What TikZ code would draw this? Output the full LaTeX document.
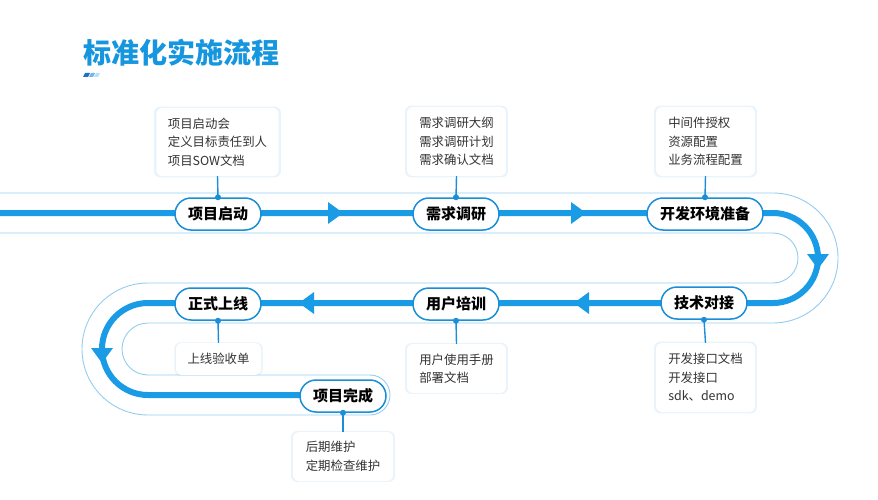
\documentclass[tikz,border=0pt]{standalone}
\usepackage{fontspec}
\setmainfont{Noto Sans CJK SC}
\usetikzlibrary{shadows}
\definecolor{mainblue}{HTML}{1A9BE6}
\definecolor{pillblue}{HTML}{1B8ED8}
\definecolor{thinblue}{HTML}{92CDF0}
\definecolor{titleblue}{HTML}{1796E0}
\definecolor{txt}{HTML}{333333}
\definecolor{deco1}{HTML}{1A73C6}
\definecolor{deco2}{HTML}{78B4E8}
\definecolor{deco3}{HTML}{BEDCF4}
\tikzset{
  trackline/.style={draw=mainblue, line width=6pt},
  bandline/.style={draw=thinblue, line width=0.9pt},
  tip/.style={fill=mainblue, draw=none},
  pill/.style={draw=pillblue, line width=1.5pt, fill=white, rounded corners=16pt,
    minimum height=32pt, inner xsep=13pt, font=\bfseries\fontsize{15}{18}\selectfont, text=black},
  infobox/.style={fill=white, rounded corners=6pt, inner xsep=11.5pt, inner ysep=6pt,
    align=left, font=\fontsize{12.4}{18.5}\selectfont, text=txt,
    drop shadow={shadow xshift=0pt, shadow yshift=0pt, shadow scale=1.04, opacity=0.10, fill=pillblue}},
  link/.style={draw=pillblue, line width=1.4pt},
  dot/.style={circle, fill=pillblue, inner sep=0pt, minimum size=6pt},
}
\begin{document}
\begin{tikzpicture}[x=1pt, y=-1pt]
\useasboundingbox (0,0) rectangle (878,500);
% title
\node[anchor=west, inner sep=0pt, text=titleblue, font=\bfseries\fontsize{28}{32}\selectfont] (title) at (83,53) {标准化实施流程};
\fill[deco1] (85,73) -- (90,73) -- (88,77) -- (83,77) -- cycle;
\fill[deco2] (91,73) -- (95,73) -- (93,77) -- (89,77) -- cycle;
\fill[deco3] (96,73) -- (100,73) -- (98,77) -- (94,77) -- cycle;
% band boundary
\draw[bandline] (0,193) -- (773,193) arc[start angle=-90, end angle=90, radius=65]
  -- (148,323) arc[start angle=-90, end angle=-270, radius=26]
  -- (370,375) arc[start angle=-90, end angle=90, radius=20]
  -- (148,415) arc[start angle=90, end angle=270, radius=66]
  -- (773,283) arc[start angle=90, end angle=-90, radius=25]
  -- (0,233);
% main track
\draw[trackline] (0,213) -- (773,213) arc[start angle=-90, end angle=90, radius=45]
  -- (148,303) arc[start angle=-90, end angle=-270, radius=46] -- (343,395);
% arrow tips
\fill[tip] (343,213) -- (328,202) -- (328,224) -- cycle;
\fill[tip] (586,213) -- (571,202) -- (571,224) -- cycle;
\fill[tip] (818,269) -- (807,254) -- (829,254) -- cycle;
\fill[tip] (574,303) -- (589,292) -- (589,314) -- cycle;
\fill[tip] (299,303) -- (314,292) -- (314,314) -- cycle;
\fill[tip] (102,363) -- (91,348) -- (113,348) -- cycle;
% pills
\node[pill] (p1) at (218,214) {项目启动};
\node[pill] (p2) at (456,214) {需求调研};
\node[pill] (p3) at (705,214) {开发环境准备};
\node[pill] (p4) at (704,303) {技术对接};
\node[pill] (p5) at (456,304) {用户培训};
\node[pill] (p6) at (218,304) {正式上线};
\node[pill] (p7) at (343,396) {项目完成};
% info boxes
\node[infobox, minimum height=68pt] (b1) at (217.5,142) {项目启动会\\定义目标责任到人\\项目SOW文档};
\node[infobox, minimum height=69pt, minimum width=99pt] (b2) at (456.5,141.5) {需求调研大纲\\需求调研计划\\需求确认文档};
\node[infobox, minimum height=69pt, minimum width=99pt] (b3) at (705.5,141.5) {中间件授权\\资源配置\\业务流程配置};
\node[infobox, minimum height=69pt, minimum width=99pt] (b4) at (705.5,377.5) {开发接口文档\\开发接口\\sdk、demo};
\node[infobox, minimum height=49pt, minimum width=99pt] (b5) at (456.5,368.5) {用户使用手册\\部署文档};
\node[infobox, minimum height=32pt] (b6) at (218.5,359) {上线验收单};
\node[infobox, minimum height=49pt, minimum width=100pt] (b7) at (343,456.5) {后期维护\\定期检查维护};
% links
\draw[link] (b1.south) -- (p1.north) node[dot] {};
\draw[link] (b2.south) -- (p2.north) node[dot] {};
\draw[link] (b3.south) -- (p3.north) node[dot] {};
\draw[link] (b4.north) -- (p4.south) node[dot] {};
\draw[link] (b5.north) -- (p5.south) node[dot] {};
\draw[link] (b6.north) -- (p6.south) node[dot] {};
\draw[link] (b7.north) -- (p7.south) node[dot] {};
\end{tikzpicture}
\end{document}
